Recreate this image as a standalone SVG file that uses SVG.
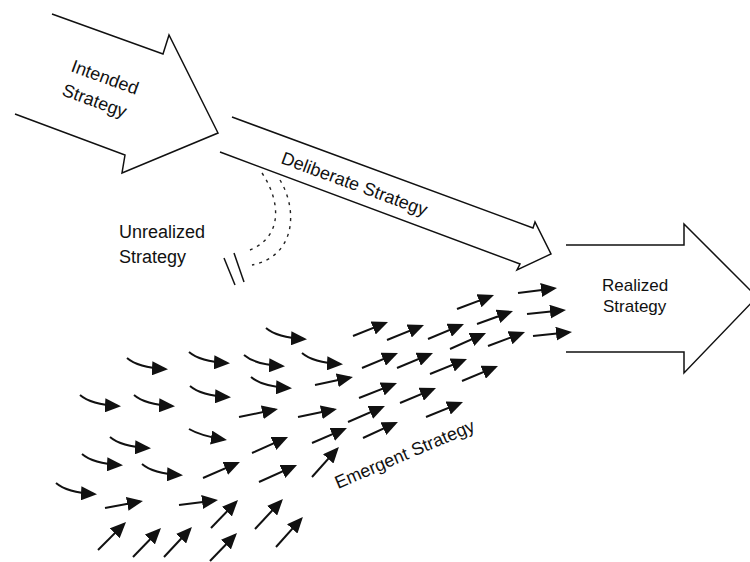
<svg xmlns="http://www.w3.org/2000/svg" xmlns:xlink="http://www.w3.org/1999/xlink" width="750" height="562" viewBox="0 0 750 562">
<style>
.big{fill:#fff;stroke:#111;stroke-width:1.5;stroke-linejoin:miter}
.lbl{font-family:"Liberation Sans",Arial,sans-serif;font-size:18px;fill:#111}
.sm{font-size:17px}
.sh{fill:none;stroke:#111;stroke-width:2;marker-end:url(#head)}
.dash{fill:none;stroke:#222;stroke-width:1.4;stroke-dasharray:3 5}
.slash{stroke:#111;stroke-width:1.5}
</style>
<defs>
<marker id="head" viewBox="0 0 16 14" refX="13" refY="7" markerWidth="16" markerHeight="14" markerUnits="userSpaceOnUse" orient="auto">
<path d="M0,0 L16,7 L0,14 Z" fill="#111"/>
</marker>
<path id="curv" class="sh" d="M0,0 q11,9.5 38,11"/>
</defs>

<g id="intended">
<polyline class="big" points="52,14 163,54 169,35 218,133 122,173 125,155 15,114"/>
<text class="lbl" transform="translate(70,71) rotate(20)">Intended</text>
<text class="lbl" transform="translate(61,95) rotate(20)">Strategy</text>
</g>

<g id="deliberate">
<polyline class="big" points="232,117 533,228 535,222 551,254 517,270 520,264 220,152"/>
<text class="lbl" transform="translate(280,163) rotate(20.2)">Deliberate Strategy</text>
</g>

<g id="realized">
<polyline class="big" points="566,245 684,245 684,224 757,297 684,373 684,352 566,352"/>
<text class="lbl sm" x="602" y="291">Realized</text>
<text class="lbl sm" x="603" y="312">Strategy</text>
</g>

<g id="unrealized">
<text class="lbl" x="119" y="238">Unrealized</text>
<text class="lbl" x="119" y="263">Strategy</text>
<path class="dash" d="M262,173 C280,200 284,236 250,250"/>
<path class="dash" d="M280,180 C298,210 296,256 252,265"/>
<line class="slash" x1="224" y1="258" x2="235" y2="285"/>
<line class="slash" x1="234" y1="253" x2="244" y2="282"/>
</g>

<g id="emergent">
<text class="lbl" transform="translate(338,489) rotate(-23)">Emergent Strategy</text>
</g>

<g id="connectors">
<use xlink:href="#curv" x="127" y="358"/>
<use xlink:href="#curv" x="189" y="352"/>
<use xlink:href="#curv" x="244" y="355"/>
<use xlink:href="#curv" x="266" y="328"/>
<use xlink:href="#curv" x="80" y="395"/>
<use xlink:href="#curv" x="134" y="395"/>
<use xlink:href="#curv" x="190" y="386"/>
<use xlink:href="#curv" x="251" y="377"/>
<use xlink:href="#curv" x="302" y="353"/>
<use xlink:href="#curv" x="110" y="437"/>
<use xlink:href="#curv" x="82" y="454"/>
<path class="sh" d="M189,429 q12,7 35,10.5"/>
<use xlink:href="#curv" x="142" y="464"/>
<use xlink:href="#curv" x="56" y="483"/>

<line class="sh" x1="105" y1="508" x2="140" y2="501.5"/>
<line class="sh" x1="179" y1="505" x2="215" y2="500.4"/>
<line class="sh" x1="203" y1="478" x2="237.2" y2="463.2"/>
<line class="sh" x1="239" y1="417" x2="275" y2="409.6"/>
<line class="sh" x1="252" y1="453" x2="285.3" y2="438.2"/>
<line class="sh" x1="259" y1="482" x2="294.3" y2="466.2"/>
<line class="sh" x1="298" y1="417" x2="334" y2="409.6"/>
<line class="sh" x1="315" y1="385" x2="350" y2="377.6"/>
<line class="sh" x1="312" y1="443" x2="344.2" y2="429.2"/>
<line class="sh" x1="348" y1="422" x2="382.2" y2="407.2"/>
<line class="sh" x1="363" y1="438" x2="395.2" y2="423.2"/>
<line class="sh" x1="359" y1="398" x2="394.2" y2="384.1"/>
<line class="sh" x1="362" y1="368" x2="395.2" y2="354.2"/>
<line class="sh" x1="353" y1="336" x2="385.2" y2="323.1"/>
<line class="sh" x1="387" y1="340" x2="421.2" y2="326.1"/>
<line class="sh" x1="397" y1="368" x2="430.2" y2="354.2"/>
<line class="sh" x1="400" y1="403" x2="433.2" y2="389.2"/>
<line class="sh" x1="428" y1="339" x2="461.2" y2="325.2"/>
<line class="sh" x1="430" y1="374" x2="464.2" y2="360.1"/>
<line class="sh" x1="426" y1="417" x2="460.2" y2="403.1"/>
<line class="sh" x1="450" y1="349" x2="483.3" y2="334.2"/>
<line class="sh" x1="457" y1="309" x2="491.2" y2="296.1"/>
<line class="sh" x1="462" y1="381" x2="495.2" y2="367.2"/>
<line class="sh" x1="477" y1="324" x2="510.2" y2="312"/>
<line class="sh" x1="488" y1="346" x2="522.2" y2="333.1"/>
<line class="sh" x1="518" y1="293" x2="554" y2="288.4"/>
<line class="sh" x1="527" y1="314" x2="563" y2="310.3"/>
<line class="sh" x1="533" y1="336" x2="569" y2="332.3"/>

<line class="sh" x1="98" y1="550" x2="123.9" y2="524.1"/>
<line class="sh" x1="133" y1="557" x2="158.9" y2="530.2"/>
<line class="sh" x1="164" y1="557" x2="189.9" y2="529.2"/>
<line class="sh" x1="211" y1="528" x2="235.9" y2="502.2"/>
<line class="sh" x1="210" y1="561" x2="234.9" y2="535.2"/>
<line class="sh" x1="255" y1="529" x2="280.9" y2="501.2"/>
<line class="sh" x1="276" y1="547" x2="300.9" y2="519.2"/>
<line class="sh" x1="312" y1="477" x2="336.9" y2="449.2"/>
</g>
</svg>
